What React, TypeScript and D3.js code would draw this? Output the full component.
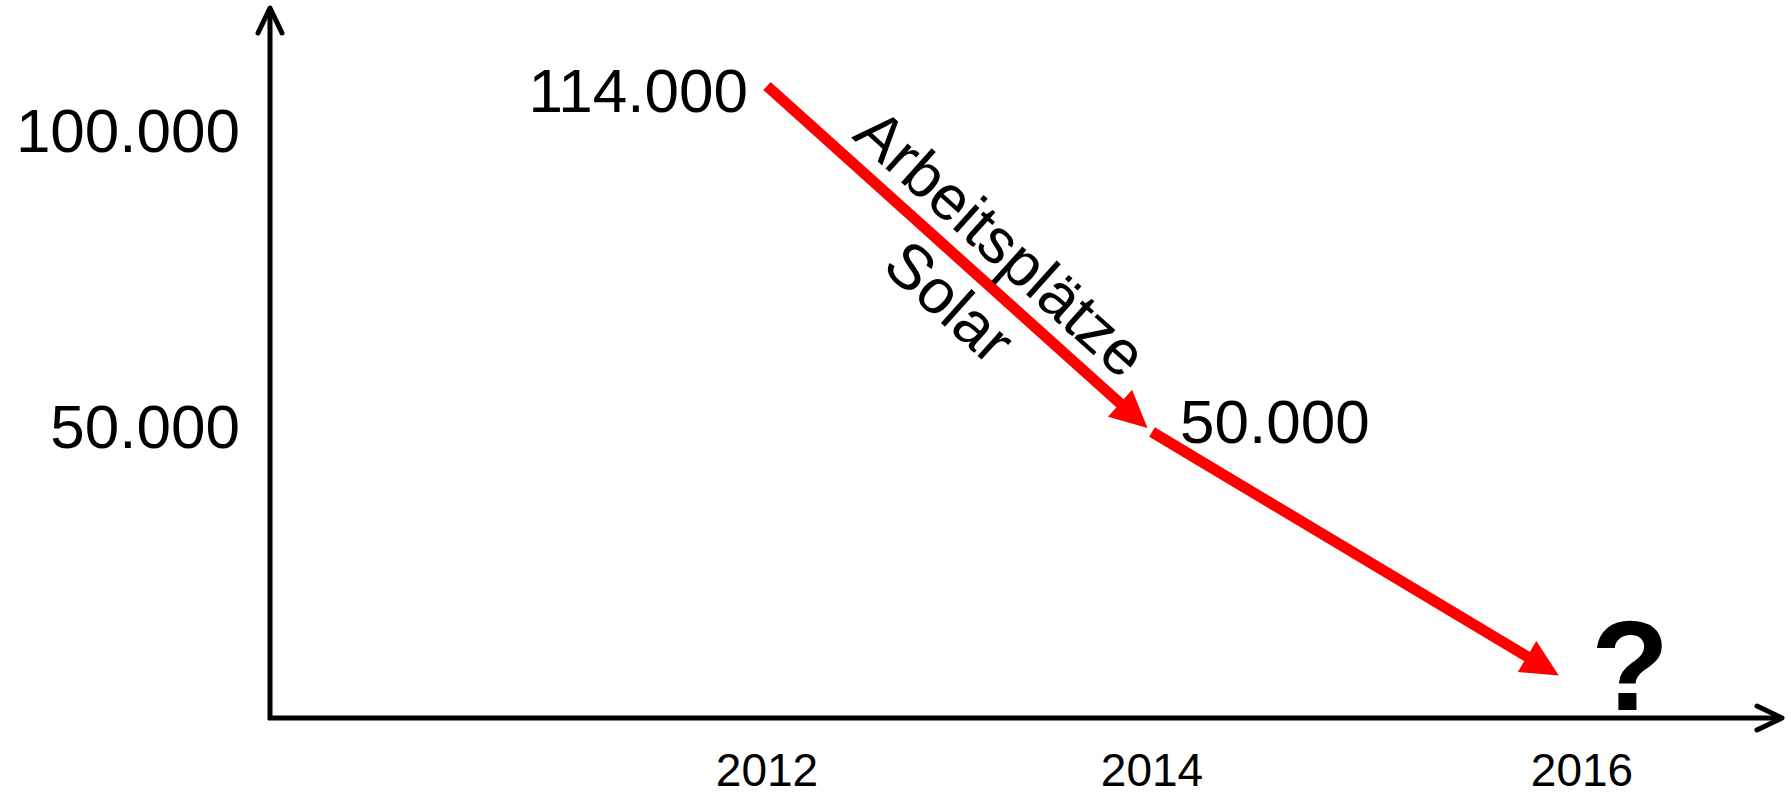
import React from "react";
import * as d3 from "d3";

// Years on the horizontal axis
const years = [2012, 2014, 2016];
const yearLabels = ["2012", "2014", "2016"];

// Value axis ticks
const yTicks = [50000, 100000];
const yTickLabels = ["50.000", "100.000"];

// Solar jobs (Arbeitsplätze Solar)
const jobYears = [2012, 2014];
const jobs = [114000, 50000];
const jobLabels = ["114.000", "50.000"];

// 2016 is unknown: the trend arrow only points toward this level
const projectionYear = 2016;
const projectionTarget = 5000;
const projectionLabel = "?";

const lineLabelTop = "Arbeitsplätze";
const lineLabelBottom = "Solar";

const W = 1791;
const H = 795;
const FONT = "'Liberation Sans', Arial, Helvetica, sans-serif";
const RED = "#ff0000";

const x = d3.scaleLinear().domain(years).range([767, 1152, 1582]);
// the top of the axis is compressed above 100.000
const y = d3
  .scaleLinear()
  .domain([0, 50000, 100000, 114000])
  .range([718, 432, 136, 86]);

const x0 = 270;
const y0 = y(0);
const yAxisTop = 8;
const xAxisEnd = 1782;

type Pt = [number, number];

function arrowGeom(p0: Pt, p1: Pt, trimStart: number, trimEnd: number) {
  const dx = p1[0] - p0[0];
  const dy = p1[1] - p0[1];
  const len = Math.hypot(dx, dy);
  const ux = dx / len;
  const uy = dy / len;
  const headLen = 37;
  const headHalf = 18;
  const s: Pt = [p0[0] + ux * trimStart, p0[1] + uy * trimStart];
  const tip: Pt = [p1[0] - ux * trimEnd, p1[1] - uy * trimEnd];
  const lineEnd: Pt = [tip[0] - ux * (headLen - 6), tip[1] - uy * (headLen - 6)];
  const base: Pt = [tip[0] - ux * headLen, tip[1] - uy * headLen];
  const head = [
    tip,
    [base[0] - uy * headHalf, base[1] + ux * headHalf],
    [base[0] + uy * headHalf, base[1] - ux * headHalf],
  ] as Pt[];
  const angle = (Math.atan2(dy, dx) * 180) / Math.PI;
  return { s, lineEnd, head, angle, len };
}

const segments = [
  {
    from: [x(jobYears[0]), y(jobs[0])] as Pt,
    to: [x(jobYears[1]), y(jobs[1])] as Pt,
    trimStart: 0,
    trimEnd: 6,
  },
  {
    from: [x(jobYears[1]), y(jobs[1])] as Pt,
    to: [x(projectionYear), y(projectionTarget)] as Pt,
    trimStart: 0,
    trimEnd: 27,
  },
];

export default function App() {
  const arrows = segments.map((sg) => arrowGeom(sg.from, sg.to, sg.trimStart, sg.trimEnd));
  const first = arrows[0];
  const lineGen = d3.line<Pt>();

  return (
    <svg
      width={W}
      height={H}
      viewBox={`0 0 ${W} ${H}`}
      style={{ position: "absolute", left: 0, top: 0, background: "#fff" }}
      fontFamily={FONT}
    >
      {/* axes with open arrow heads */}
      <g stroke="#000" strokeWidth={5} fill="none" strokeLinecap="round" strokeLinejoin="round">
        <line x1={x0} y1={y0 + 2} x2={x0} y2={yAxisTop + 2} strokeLinecap="butt" />
        <path d={lineGen([[x0 - 12, yAxisTop + 25], [x0, yAxisTop], [x0 + 12, yAxisTop + 25]])!} />
        <line x1={x0 - 2} y1={y0} x2={xAxisEnd - 2} y2={y0} strokeLinecap="butt" />
        <path d={lineGen([[xAxisEnd - 25, y0 - 12], [xAxisEnd, y0], [xAxisEnd - 25, y0 + 12]])!} />
      </g>

      {/* value tick labels */}
      {yTicks.map((v, i) => (
        <text key={v} x={240} y={y(v) + 16} fontSize={62} textAnchor="end" fill="#000">
          {yTickLabels[i]}
        </text>
      ))}

      {/* year labels */}
      {years.map((yr, i) => (
        <text key={yr} x={x(yr)} y={786} fontSize={46} textAnchor="middle" fill="#000">
          {yearLabels[i]}
        </text>
      ))}

      {/* trend arrows */}
      {arrows.map((a, i) => (
        <g key={i}>
          <line
            x1={a.s[0]}
            y1={a.s[1]}
            x2={a.lineEnd[0]}
            y2={a.lineEnd[1]}
            stroke={RED}
            strokeWidth={11}
          />
          <polygon points={a.head.map((p) => p.join(",")).join(" ")} fill={RED} />
        </g>
      ))}

      {/* value labels at the data points */}
      <text
        x={x(jobYears[0]) - 19}
        y={y(jobs[0]) + 26}
        fontSize={62}
        textAnchor="end"
        fill="#000"
      >
        {jobLabels[0]}
      </text>
      <text x={x(jobYears[1]) + 28} y={y(jobs[1]) + 11} fontSize={62} fill="#000">
        {jobLabels[1]}
      </text>

      {/* label along the first arrow */}
      <g transform={`translate(${first.s[0]},${first.s[1]}) rotate(${first.angle})`}>
        <text x={279} y={-18} fontSize={63} textAnchor="middle" fill="#000">
          {lineLabelTop}
        </text>
        <text x={280} y={60} fontSize={63} textAnchor="middle" fill="#000">
          {lineLabelBottom}
        </text>
      </g>

      {/* unknown 2016 value */}
      <text
        x={x(projectionYear) + 48}
        y={710}
        fontSize={128}
        fontWeight="bold"
        textAnchor="middle"
        fill="#000"
      >
        {projectionLabel}
      </text>
    </svg>
  );
}
